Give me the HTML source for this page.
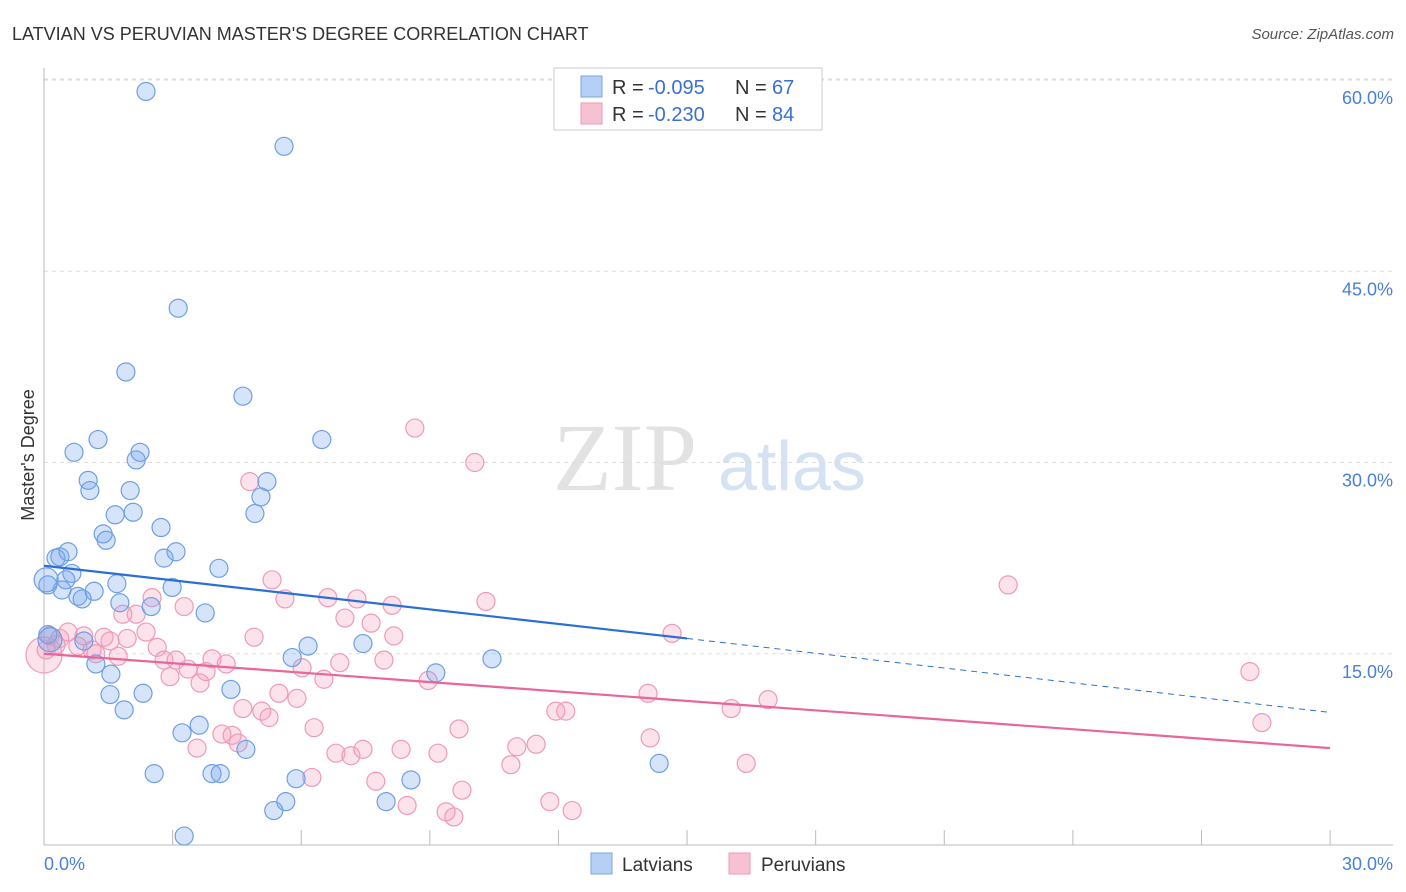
<!DOCTYPE html>
<html><head><meta charset="utf-8"><style>
body{margin:0;background:#fff;width:1406px;height:892px;overflow:hidden;font-family:"Liberation Sans",sans-serif}
svg{position:absolute;left:0;top:0}
</style></head><body>
<svg width="1406" height="892">
<text x="12" y="40" font-size="18" fill="#333">LATVIAN VS PERUVIAN MASTER'S DEGREE CORRELATION CHART</text>
<text x="1394" y="39" font-size="15" fill="#555" font-style="italic" text-anchor="end">Source: ZipAtlas.com</text>
<text transform="translate(34,455) rotate(-90)" font-size="18" fill="#333" text-anchor="middle">Master's Degree</text>
<g>
<text x="553" y="490" font-size="96" font-family="Liberation Serif,serif" fill="#e2e2e2">ZIP</text>
<text x="718" y="490" font-size="70" fill="#d5e2f3">atlas</text>
</g>
<g id="grid"></g><g id="axes"></g><g id="marks"></g><g id="lines"></g>
<g>
<rect x="554" y="68" width="268" height="62" fill="#fff" stroke="#ccc"/>
<rect x="581" y="76" width="21" height="21" fill="#b5d0f5" stroke="#7aa6e6"/>
<rect x="581" y="103" width="21" height="21" fill="#f6c2d3" stroke="#ec9ab6"/>
<text x="612" y="94" font-size="20" fill="#333">R =</text>
<text x="648" y="94" font-size="20" fill="#3a70d0">-0.095</text>
<text x="735" y="94" font-size="20" fill="#333">N =</text>
<text x="772" y="94" font-size="20" fill="#3a70d0">67</text>
<text x="612" y="121" font-size="20" fill="#333">R =</text>
<text x="648" y="121" font-size="20" fill="#3a70d0">-0.230</text>
<text x="735" y="121" font-size="20" fill="#333">N =</text>
<text x="772" y="121" font-size="20" fill="#3a70d0">84</text>
</g>
<g>
<rect x="591" y="853" width="21" height="21" fill="#b5d0f5" stroke="#7aa6e6"/>
<text x="622" y="871" font-size="19" fill="#333">Latvians</text>
<rect x="729" y="853" width="21" height="21" fill="#f6c2d3" stroke="#ec9ab6"/>
<text x="761" y="871" font-size="19" fill="#333">Peruvians</text>
</g>
</svg>
<script>
const yTicks=[15,30,45,60];
const yTickLabels=["15.0%","30.0%","45.0%","60.0%"];
const xTicks=[0,3,6,9,12,15,18,21,24,27,30];
const latX=[2.38,5.6,3.13,1.91,4.64,1.26,6.48,0.7,2.24,2.15,1.03,1.07,2.01,5.2,5.06,1.66,2.08,4.92,2.73,1.38,1.45,0.28,0.37,0.56,3.08,2.8,4.08,0.65,0.51,0.09,0.42,2.99,1.17,1.7,0.79,0.89,1.77,2.5,3.76,0.93,0.09,6.16,7.44,5.79,1.21,10.45,9.14,1.56,4.36,1.54,2.31,1.87,3.62,3.22,4.71,2.57,3.92,4.11,14.35,5.88,8.56,5.64,7.98,5.36,3.27,0.14,0.05];
const latY=[59.1,54.8,42.1,37.1,35.2,31.8,31.8,30.8,30.8,30.2,28.6,27.8,27.8,28.5,27.3,25.9,26.1,26.0,24.9,24.4,23.9,22.5,22.6,23.0,23.0,22.5,21.7,21.3,20.8,20.4,20.0,20.2,19.9,20.5,19.5,19.3,19.0,18.7,18.2,16.0,16.5,15.6,15.8,14.7,14.2,14.6,13.5,13.4,12.2,11.8,11.9,10.6,9.4,8.8,7.5,5.6,5.6,5.6,6.4,5.2,5.1,3.4,3.4,2.7,0.7,16.1,20.8];
const perX=[8.65,10.05,22.49,4.8,5.32,5.62,6.62,7.3,8.12,10.31,3.27,2.52,1.84,2.15,7.02,7.63,0.14,0.37,0.56,0.93,1.4,1.54,1.94,2.38,4.9,8.16,14.65,0.28,0.79,1.12,1.73,2.64,2.8,3.08,3.36,3.78,3.92,4.25,6.02,6.9,7.93,6.53,8.96,28.13,1.21,2.94,3.64,5.48,5.9,14.09,16.89,16.03,4.64,5.08,5.25,11.94,12.17,6.3,9.68,28.41,4.15,4.39,4.53,14.14,3.57,6.81,7.16,7.44,8.33,9.19,11.03,11.48,10.89,16.38,6.25,7.74,9.75,8.47,11.8,9.38,9.56,12.32,0.0,0.05];
const perY=[32.7,30.0,20.4,28.5,20.8,19.3,19.4,19.3,18.8,19.1,18.7,19.4,18.1,18.1,17.8,17.4,16.4,16.2,16.7,16.4,16.3,16.0,16.2,16.7,16.3,16.4,16.6,15.7,15.6,15.3,14.8,15.5,14.5,14.5,13.8,13.6,14.6,14.2,13.9,14.3,14.5,13.0,12.9,13.6,15.0,13.2,12.7,11.9,11.5,11.9,11.4,10.7,10.7,10.5,10.0,10.5,10.5,9.2,9.1,9.6,8.7,8.6,8.0,8.4,7.6,7.2,7.0,7.5,7.5,7.2,7.7,7.9,6.3,6.4,5.3,5.0,4.3,3.1,3.4,2.6,2.2,2.7,14.9,15.3];
const latTrend=[21.9,16.2,10.4];
const perTrend=[15.0,7.6];
const X=v=>44+v*42.87, Y=v=>845-v*12.75;
const NS="http://www.w3.org/2000/svg";
function mk(tag,attrs,parent){const e=document.createElementNS(NS,tag);for(const k in attrs)e.setAttribute(k,attrs[k]);document.getElementById(parent).appendChild(e);return e;}
yTicks.forEach((t,i)=>{
 const g=mk('line',{x1:44,x2:1393,y1:Y(t),y2:Y(t),stroke:'#ddd','stroke-dasharray':'4,4'},'grid');
 
 
 const l=mk('text',{x:1393,y:Y(t)+24,'font-size':18,fill:'#4a7fd6','text-anchor':'end'},'axes');
 l.textContent=yTickLabels[i];
 
 
});
let topLine=mk('line',{x1:44,x2:1393,y1:79,y2:79,stroke:'#ddd','stroke-dasharray':'4,4'},'grid');


let a=mk('line',{x1:44,x2:44,y1:68,y2:845,stroke:'#bbb'},'axes');


a=mk('line',{x1:44,x2:1393,y1:845,y2:845,stroke:'#bbb'},'axes');


xTicks.forEach(t=>{const e=mk('line',{x1:X(t),x2:X(t),y1:830,y2:845,stroke:'#bbb'},'axes');
 
 });
let t0=mk('text',{x:44,y:870,'font-size':18,fill:'#4a7fd6'},'axes');t0.textContent='0.0%';


let t1=mk('text',{x:1393,y:870,'font-size':18,fill:'#4a7fd6','text-anchor':'end'},'axes');t1.textContent='30.0%';


perX.forEach((x,i)=>{const c=mk('circle',{cx:X(x),cy:Y(perY[i]),r:(i===82?18:9),fill:'rgba(244,160,190,0.3)',stroke:'#ee9ab6','stroke-width':1.2},'marks');
 
 });
latX.forEach((x,i)=>{const c=mk('circle',{cx:X(x),cy:Y(latY[i]),r:(i>=65?12:9),fill:'rgba(120,165,235,0.3)',stroke:'#6e9fe3','stroke-width':1.2},'marks');
 
 });
let l1=mk('line',{x1:X(0),y1:Y(latTrend[0]),x2:X(15),y2:Y(latTrend[1]),stroke:'#2a6fd6','stroke-width':2.2},'lines');


let l2=mk('line',{x1:X(15),y1:Y(latTrend[1]),x2:X(30),y2:Y(latTrend[2]),stroke:'#2a6fd6','stroke-width':1,'stroke-dasharray':'6,5'},'lines');


let l3=mk('line',{x1:X(0),y1:Y(perTrend[0]),x2:X(30),y2:Y(perTrend[1]),stroke:'#e8669a','stroke-width':2.2},'lines');


</script>
</body></html>
